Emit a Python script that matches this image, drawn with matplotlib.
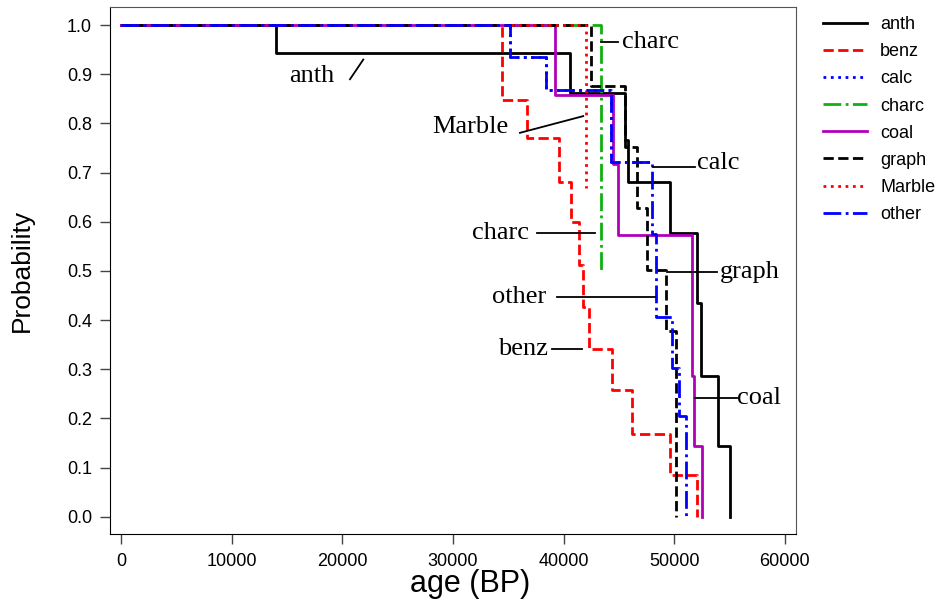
import matplotlib
matplotlib.use("Agg")
import matplotlib.pyplot as plt

# step data (age BP, probability after each step)
anth_age = [0, 14000, 40570, 45540, 45840, 49600, 52050, 52380, 53950, 55050]
anth_p = [1.0, 0.943, 0.863, 0.766, 0.68, 0.577, 0.435, 0.287, 0.144, 0.0]

benz_age = [0, 34450, 36650, 39580, 40700, 41400, 41770, 42310, 44330, 46140, 49600, 52010]
benz_p = [1.0, 0.848, 0.77, 0.68, 0.6, 0.512, 0.427, 0.341, 0.257, 0.169, 0.085, 0.0]

calc_age = [0, 35150, 38370, 44280, 47960]
calc_p = [1.0, 0.935, 0.868, 0.722, 0.722]

charc_age = [0, 43370]
charc_p = [1.0, 0.502]

coal_age = [0, 39220, 44480, 44930, 51560, 51800, 52470]
coal_p = [1.0, 0.858, 0.717, 0.573, 0.287, 0.143, 0.0]

graph_age = [0, 42440, 45540, 46600, 47500, 49250, 50150]
graph_p = [1.0, 0.876, 0.753, 0.628, 0.502, 0.377, 0.0]

marble_age = [0, 42020]
marble_p = [1.0, 0.668]

other_age = [0, 35150, 38370, 44280, 47960, 48390, 49760, 50420, 51020]
other_p = [1.0, 0.935, 0.868, 0.722, 0.575, 0.406, 0.302, 0.204, 0.0]

series = [
    ("anth", anth_age, anth_p, "black", "-"),
    ("benz", benz_age, benz_p, "#ff0000", "--"),
    ("calc", calc_age, calc_p, "#0000ff", ":"),
    ("charc", charc_age, charc_p, "#10b010", "-."),
    ("coal", coal_age, coal_p, "#b000b8", "-"),
    ("graph", graph_age, graph_p, "black", "--"),
    ("Marble", marble_age, marble_p, "#ff0000", ":"),
    ("other", other_age, other_p, "#0000ff", "-."),
]

# curve labels: text, text position, alignment, leader line (x0, y0, x1, y1)
labels = [
    ("anth", 17210, 0.896, "center", (20690, 0.890, 21890, 0.930)),
    ("charc", 45300, 0.966, "left", (43370, 0.966, 44950, 0.966)),
    ("Marble", 31540, 0.793, "center", (36050, 0.781, 41770, 0.815)),
    ("calc", 52050, 0.72, "left", (48070, 0.712, 51860, 0.712)),
    ("charc", 36870, 0.578, "right", (37560, 0.578, 42830, 0.578)),
    ("graph", 54150, 0.497, "left", (49360, 0.497, 53830, 0.497)),
    ("other", 38470, 0.448, "right", (39370, 0.448, 48250, 0.448)),
    ("benz", 38580, 0.341, "right", (38920, 0.341, 41680, 0.341)),
    ("coal", 55700, 0.2425, "left", (51870, 0.2425, 55630, 0.2425)),
]

plt.rcParams['font.family'] = ['Liberation Sans', 'DejaVu Sans']

fig = plt.figure(figsize=(9.38, 6.01), dpi=100)
ax = fig.add_axes([0.1173, 0.1115, 0.7313, 0.8769])

for name, age, p, col, ls in series:
    ax.step(age, p, where='post', color=col, linestyle=ls, linewidth=2, label=name)

for txt, x, y, ha, (x0, y0, x1, y1) in labels:
    ax.plot([x0, x1], [y0, y1], color='black', linewidth=1.3)
    ax.text(x, y, txt, ha=ha, va='center', fontsize=19, family='Liberation Serif')

ax.set_xlim(-1000, 61000)
ax.set_ylim(-0.035, 1.037)
ax.set_xticks(range(0, 60001, 10000))
ax.set_yticks([i / 10 for i in range(11)])
ax.set_yticklabels([f"{i / 10:.1f}" for i in range(11)])
ax.tick_params(direction='out', length=7, width=1, labelsize=13, color='#444444')
ax.tick_params(axis='x', pad=7)
ax.tick_params(axis='y', pad=6)
for side in ['top', 'right']:
    ax.spines[side].set_color('#555555')

ax.set_xlabel('age (BP)', fontsize=22, labelpad=-1, x=0.525)
ax.set_ylabel('Probability', fontsize=19, labelpad=24)

ax.legend(loc='upper left', bbox_to_anchor=(0.868, 0.988), bbox_transform=fig.transFigure,
          frameon=False, fontsize=13, handlelength=2.4, handletextpad=0.75,
          labelspacing=0.56, borderpad=0)

fig.savefig('out.png', dpi=100)
